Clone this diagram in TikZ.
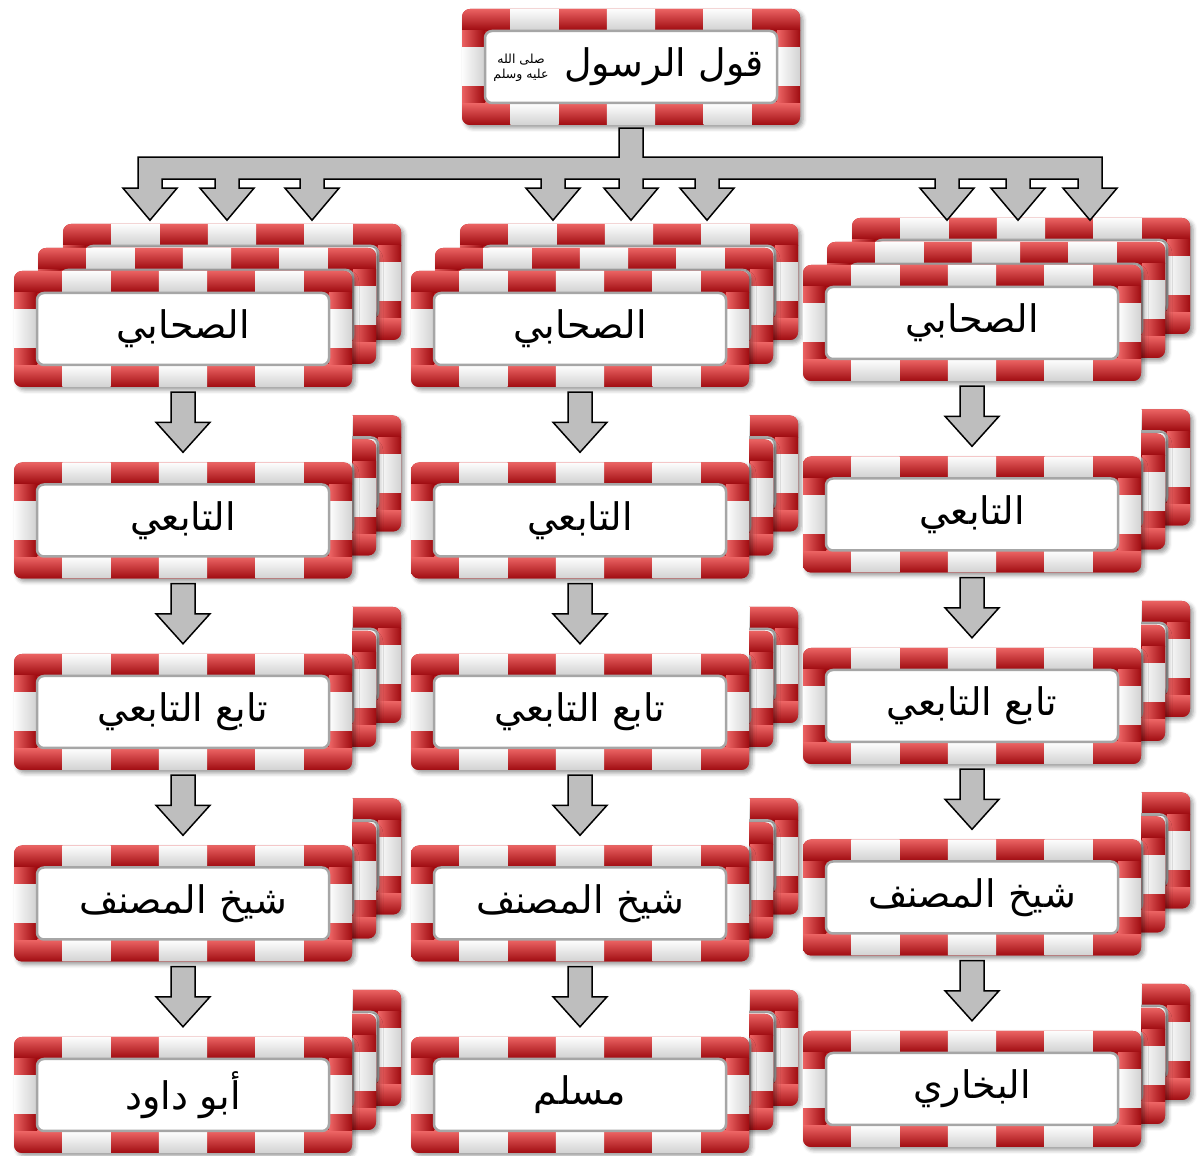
\documentclass[tikz,border=0pt]{standalone}
\usepackage{fontspec}
\newfontfamily\arabicfont[Script=Arabic]{DejaVu Sans}
\TeXXeTstate=1
\usetikzlibrary{calc, positioning, shadows.blur}
\definecolor{redhi}{HTML}{EE6666}
\definecolor{redlo}{HTML}{9C080D}
\definecolor{stripered}{HTML}{C01A1E}
\definecolor{whitelo}{HTML}{D0D0D0}
\definecolor{innergray}{HTML}{A6A6A6}
\definecolor{arrowgray}{HTML}{BEBEBE}

\tikzset{
  hadith/.style={
    rectangle, draw=none, text=black, inner sep=0pt,
    minimum width=338pt, minimum height=116pt,
    font=\arabicfont\fontsize{38}{44}\selectfont,
  },
  outerframe/.style={fill=stripered, rounded corners=8pt,
    blur shadow={shadow xshift=3pt, shadow yshift=-3pt,
                 shadow blur radius=4pt, shadow opacity=40}},
  redband/.style={top color=redhi, bottom color=redlo},
  redside/.style={left color=redhi, right color=redlo},
  whitepiece/.style={top color=white, bottom color=whitelo},
  whiteside/.style={left color=white, right color=whitelo},
  panel/.style={draw=innergray, line width=2.5pt, fill=white, rounded corners=7pt},
  blockarrow/.style={draw=black, line width=1.5pt, fill=arrowgray},
}

% the red and white striped frame, centred at (#1,#2)
\newcommand\stripeframe[2]{%
  \begin{scope}[shift={(#1,#2)}]
    \fill[outerframe] (-169,-58) rectangle (169,58);
    \begin{scope}
      \clip[rounded corners=8pt] (-169,-58) rectangle (169,58);
      \shade[redband] (-170,36) rectangle (170,59);
      \shade[redband] (-170,-59) rectangle (170,-36);
      \shade[redside] (-170,-36) rectangle (-146,36);
      \shade[redside] (146,-36) rectangle (170,36);
      \foreach \k in {1,3,5} {
        \shade[whitepiece] ({-169+48.3*\k},36) rectangle ({-169+48.3*(\k+1)},59);
        \shade[whitepiece] ({-169+48.3*\k},-59) rectangle ({-169+48.3*(\k+1)},-36);
      }
      \shade[whiteside] (-170,-19) rectangle (-146,19);
      \shade[whiteside] (146,-19) rectangle (170,19);
    \end{scope}
    \path[panel] (-146,-36) rectangle (146,36);
  \end{scope}}

% a box with two full copies stacked behind it
\newcommand\stackbox[4]{%
  \stripeframe{#2+49}{#3+47}
  \stripeframe{#2+24}{#3+23}
  \stripeframe{#2}{#3}
  \node[hadith] (#1) at (#2,#3) {#4};}
% a box whose copies only show at its right edge
\newcommand\stackclip[4]{%
  \begin{scope}
    \clip (#2+169,#3-100) rectangle (#2+260,#3+120);
    \stripeframe{#2+49}{#3+47}
    \stripeframe{#2+24}{#3+23}
  \end{scope}
  \stripeframe{#2}{#3}
  \node[hadith] (#1) at (#2,#3) {#4};}
% block arrow from one box down to the next
\newcommand\blockdown[2]{%
  \draw[blockarrow] let \p1=($(#1.south)+(0,-5)$), \p2=($(#2.north)+(0,10)$) in
    (\x1-12pt,\y1) -- (\x1+12pt,\y1) -- (\x1+12pt,\y2+30pt) -- (\x1+27pt,\y2+30pt)
    -- (\x1,\y2) -- (\x1-27pt,\y2+30pt) -- (\x1-12pt,\y2+30pt) -- cycle;}

\begin{document}
\begin{tikzpicture}[x=1pt, y=1pt]
\useasboundingbox (0,0) rectangle (1203,1156);

\stripeframe{631}{1089}
\node[hadith] (qawl) at (631,1089) {};
\node[font=\arabicfont\fontsize{38}{44}\selectfont] (qtext) at (664,1089)
  {\beginR قول الرسول\endR};
\node[font=\arabicfont\fontsize{12.5}{15}\selectfont, align=center, inner sep=0pt]
  (salla) at (521,1088) {\beginR صلى الله\endR\\\beginR عليه وسلم\endR};

% first row: the companions
\stackbox{sahL}{183}{827}{\beginR الصحابي\endR}
\stackbox{sahM}{580}{827}{\beginR الصحابي\endR}
\stackbox{sahR}{972}{833}{\beginR الصحابي\endR}

% the chains below
\stackclip{tabL}{183}{635.5}{\beginR التابعي\endR}
\stackclip{tabM}{580}{635.5}{\beginR التابعي\endR}
\stackclip{tabR}{972}{641.5}{\beginR التابعي\endR}

\stackclip{ttbL}{183}{444}{\beginR تابع التابعي\endR}
\stackclip{ttbM}{580}{444}{\beginR تابع التابعي\endR}
\stackclip{ttbR}{972}{450}{\beginR تابع التابعي\endR}

\stackclip{shkL}{183}{252.5}{\beginR شيخ المصنف\endR}
\stackclip{shkM}{580}{252.5}{\beginR شيخ المصنف\endR}
\stackclip{shkR}{972}{258.5}{\beginR شيخ المصنف\endR}

\stackclip{abudawud}{183}{61}{\beginR أبو داود\endR}
\stackclip{muslim}{580}{61}{\beginR مسلم\endR}
\stackclip{bukhari}{972}{67}{\beginR البخاري\endR}

\blockdown{sahL}{tabL} \blockdown{tabL}{ttbL} \blockdown{ttbL}{shkL} \blockdown{shkL}{abudawud}
\blockdown{sahM}{tabM} \blockdown{tabM}{ttbM} \blockdown{ttbM}{shkM} \blockdown{shkM}{muslim}
\blockdown{sahR}{tabR} \blockdown{tabR}{ttbR} \blockdown{ttbR}{shkR} \blockdown{shkR}{bukhari}

% the branching arrow from the top box to the nine companions
\begin{scope}[shift={(qawl.south)}]
  \draw[blockarrow] (-12,-3) -- (12,-3) -- (12,-32) -- (471,-32)
    \foreach \t in {459,387,316,76,0,-78,-319,-404,-481} {
      -- (\t+12,-54) -- (\t+12,-63) -- (\t+27,-63) -- (\t,-95)
      -- (\t-27,-63) -- (\t-12,-63) -- (\t-12,-54)}
    -- (-493,-32) -- (-12,-32) -- cycle;
\end{scope}

\end{tikzpicture}
\end{document}
